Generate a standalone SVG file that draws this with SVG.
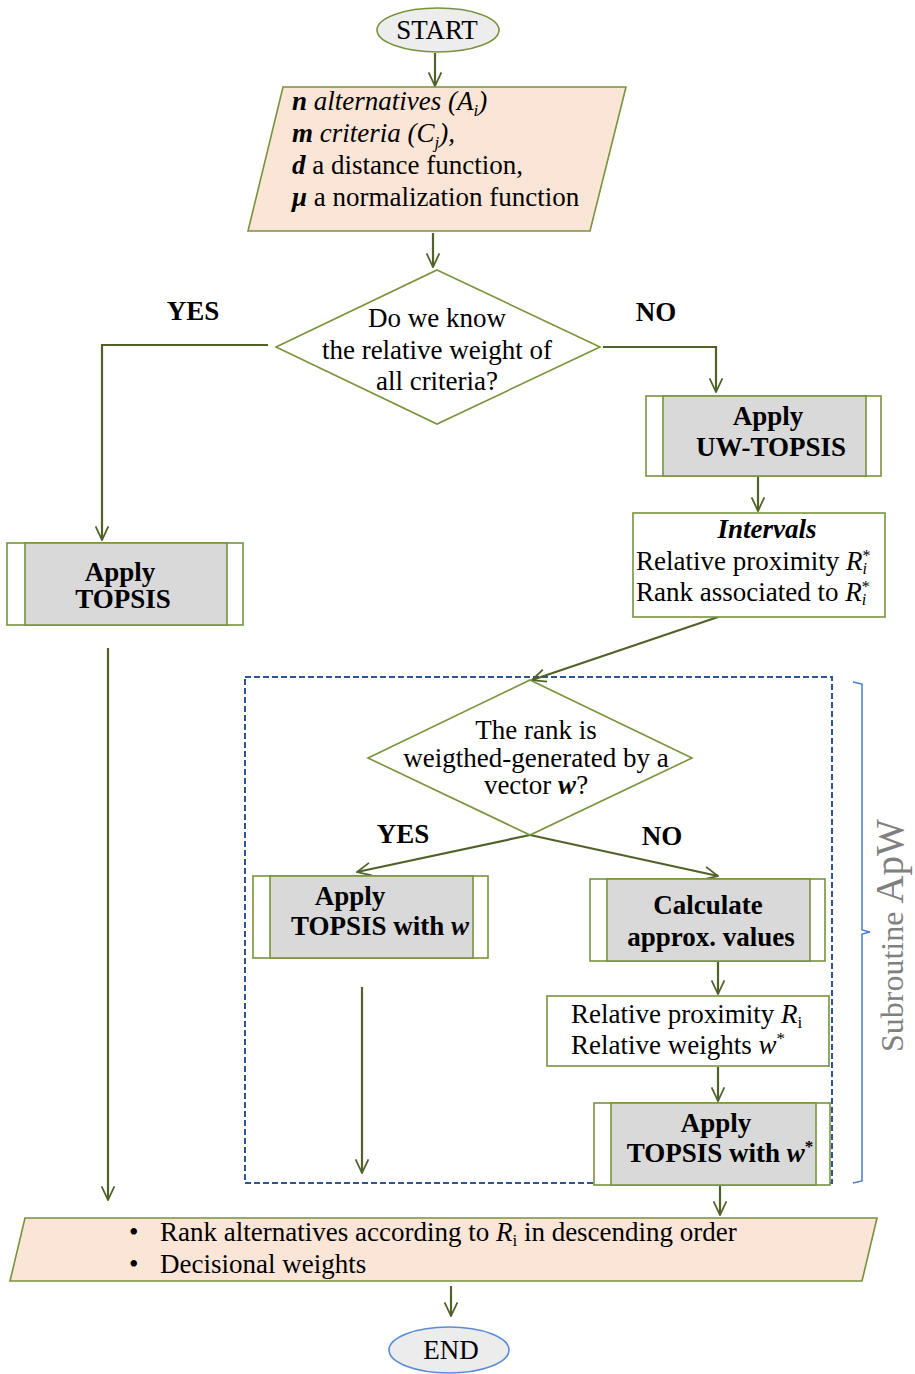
<svg xmlns="http://www.w3.org/2000/svg" width="915" height="1374" viewBox="0 0 915 1374">
<defs>
<marker id="arr" viewBox="0 0 20 20" refX="19" refY="10" markerWidth="16" markerHeight="16" markerUnits="userSpaceOnUse" orient="auto">
<path d="M2,2 L19,10 L2,18" fill="none" stroke="#4f6228" stroke-width="2.2"/>
</marker>
<style>
.t{font-family:"Liberation Serif","Times New Roman",serif;font-size:27px;fill:#000}
.c{text-anchor:middle}
.b{font-weight:bold}
.i{font-style:italic}
.box{fill:#fff;stroke:#77933c;stroke-width:1.6}
.pr{fill:#d9d9d9;stroke:#77933c;stroke-width:1.6}
.io{fill:#fbe5d6;stroke:#77933c;stroke-width:1.6}
.dia{fill:#fff;stroke:#77933c;stroke-width:1.6}
.con{fill:none;stroke:#4f6228;stroke-width:2.2;marker-end:url(#arr)}
</style>
</defs>
<rect width="915" height="1374" fill="#fff"/>

<g id="subroutine">
<rect x="245" y="677" width="587" height="506" fill="none" stroke="#2f5597" stroke-width="2" stroke-dasharray="6,3"/>
<path d="M853,682 L862,684 L862,930 L870,932 L862,934 L862,1181 L853,1183" fill="none" stroke="#4a7bd0" stroke-width="1.5"/>
<text transform="translate(903,1052) rotate(-90)" style="font-family:'Liberation Serif','Times New Roman',serif;fill:#808080"><tspan font-size="32">Subroutine </tspan><tspan font-size="39">ApW</tspan></text>
</g>

<g id="connectors">
<line class="con" x1="435" y1="53" x2="435" y2="86"/>
<line class="con" x1="433" y1="233" x2="433" y2="267"/>
<polyline class="con" points="268,345 102,345 102,540"/>
<polyline class="con" points="603,347 716,347 716,392"/>
<line class="con" x1="758" y1="477" x2="758" y2="511"/>
<line class="con" x1="718" y1="617" x2="532" y2="680"/>
<line class="con" x1="108" y1="648" x2="108" y2="1200"/>
<line class="con" x1="530" y1="835" x2="357" y2="872"/>
<line class="con" x1="530" y1="835" x2="718" y2="876"/>
<line class="con" x1="362" y1="987" x2="362" y2="1173"/>
<line class="con" x1="718" y1="962" x2="718" y2="994"/>
<line class="con" x1="718" y1="1067" x2="718" y2="1101"/>
<line class="con" x1="720" y1="1186" x2="720" y2="1215"/>
<line class="con" x1="451" y1="1286" x2="451" y2="1316"/>
</g>

<g id="start">
<ellipse cx="438" cy="30" rx="61" ry="22" fill="#ededed" stroke="#77933c" stroke-width="1.6"/>
<text class="t c" x="437" y="39">START</text>
</g>

<g id="input">
<polygon class="io" points="283,87 626,87 590,231 248,231"/>
<text class="t i" x="292" y="110"><tspan class="b">n</tspan> alternatives (A<tspan font-size="17" dy="6">i</tspan><tspan dy="-6">)</tspan></text>
<text class="t i" x="292" y="142"><tspan class="b">m</tspan> criteria (C<tspan font-size="17" dy="6">j</tspan><tspan dy="-6">),</tspan></text>
<text class="t" x="292" y="174"><tspan class="b i">d</tspan>  a distance function,</text>
<text class="t" x="292" y="206"><tspan class="b i">μ</tspan> a normalization function</text>
</g>

<g id="decision1">
<polygon class="dia" points="437,270 600,347 437,424 276,347"/>
<text class="t c" x="437" y="327">Do we know</text>
<text class="t c" x="437" y="359">the relative weight of</text>
<text class="t c" x="437" y="390">all criteria?</text>
</g>
<g id="label-yes1"><text class="t c b" x="193" y="320">YES</text></g>
<g id="label-no1"><text class="t c b" x="656" y="321">NO</text></g>

<g id="uwtopsis">
<rect class="box" x="646" y="396" width="235" height="80"/>
<rect class="pr" x="663" y="396" width="203" height="80"/>
<text class="t c b" x="768" y="425">Apply</text>
<text class="t c b" x="771" y="456">UW-TOPSIS</text>
</g>

<g id="intervals">
<rect class="box" x="633" y="513" width="252" height="104"/>
<text class="t c b i" x="767" y="538">Intervals</text>
<text class="t" x="636" y="570">Relative proximity <tspan class="i">R</tspan><tspan font-size="16" dy="-9">*</tspan><tspan class="i" font-size="16" dx="-8" dy="13">i</tspan></text>
<text class="t" x="636" y="601">Rank associated to <tspan class="i">R</tspan><tspan font-size="16" dy="-9">*</tspan><tspan class="i" font-size="16" dx="-8" dy="13">i</tspan></text>
</g>

<g id="topsis">
<rect class="box" x="7" y="543" width="236" height="82"/>
<rect class="pr" x="25" y="543" width="202" height="82"/>
<text class="t c b" x="120" y="581">Apply</text>
<text class="t c b" x="123" y="608">TOPSIS</text>
</g>

<g id="decision2">
<polygon class="dia" points="530,680 692,758 530,835 368,758"/>
<text class="t c" x="536" y="739">The rank is</text>
<text class="t c" x="536" y="767">weigthed-generated by a</text>
<text class="t c" x="536" y="794">vector <tspan class="b i">w</tspan>?</text>
</g>
<g id="label-yes2"><text class="t c b" x="403" y="843">YES</text></g>
<g id="label-no2"><text class="t c b" x="662" y="845">NO</text></g>

<g id="topsis-w">
<rect class="box" x="253" y="876" width="235" height="82"/>
<rect class="pr" x="270" y="876" width="203" height="82"/>
<text class="t c b" x="350" y="905">Apply</text>
<text class="t c b" x="380" y="935">TOPSIS with <tspan class="i">w</tspan></text>
</g>

<g id="calculate">
<rect class="box" x="590" y="879" width="235" height="82"/>
<rect class="pr" x="607" y="879" width="203" height="82"/>
<text class="t c b" x="708" y="914">Calculate</text>
<text class="t c b" x="711" y="946">approx. values</text>
</g>

<g id="relprox">
<rect class="box" x="547" y="996" width="282" height="70"/>
<text class="t" x="571" y="1023">Relative proximity <tspan class="i">R</tspan><tspan font-size="17" dy="5">i</tspan></text>
<text class="t" x="571" y="1054">Relative weights <tspan class="i">w</tspan><tspan font-size="17" dy="-10">*</tspan></text>
</g>

<g id="topsis-wstar">
<rect class="box" x="594" y="1103" width="236" height="82"/>
<rect class="pr" x="611" y="1103" width="205" height="82"/>
<text class="t c b" x="716" y="1132">Apply</text>
<text class="t c b" x="720" y="1162">TOPSIS with <tspan class="i">w</tspan><tspan font-size="17" dy="-10">*</tspan></text>
</g>

<g id="output">
<polygon class="io" points="25,1218 877,1218 862,1281 10,1281"/>
<text class="t" x="129" y="1241">•</text>
<text class="t" x="160" y="1241">Rank alternatives according to <tspan class="i">R</tspan><tspan font-size="17" dy="5">i</tspan><tspan dy="-5"> in descending order</tspan></text>
<text class="t" x="129" y="1273">•</text>
<text class="t" x="160" y="1273">Decisional weights</text>
</g>

<g id="end">
<ellipse cx="449" cy="1350" rx="60" ry="23" fill="#ececec" stroke="#5b8bd6" stroke-width="1.6"/>
<text class="t c" x="451" y="1359">END</text>
</g>
</svg>
